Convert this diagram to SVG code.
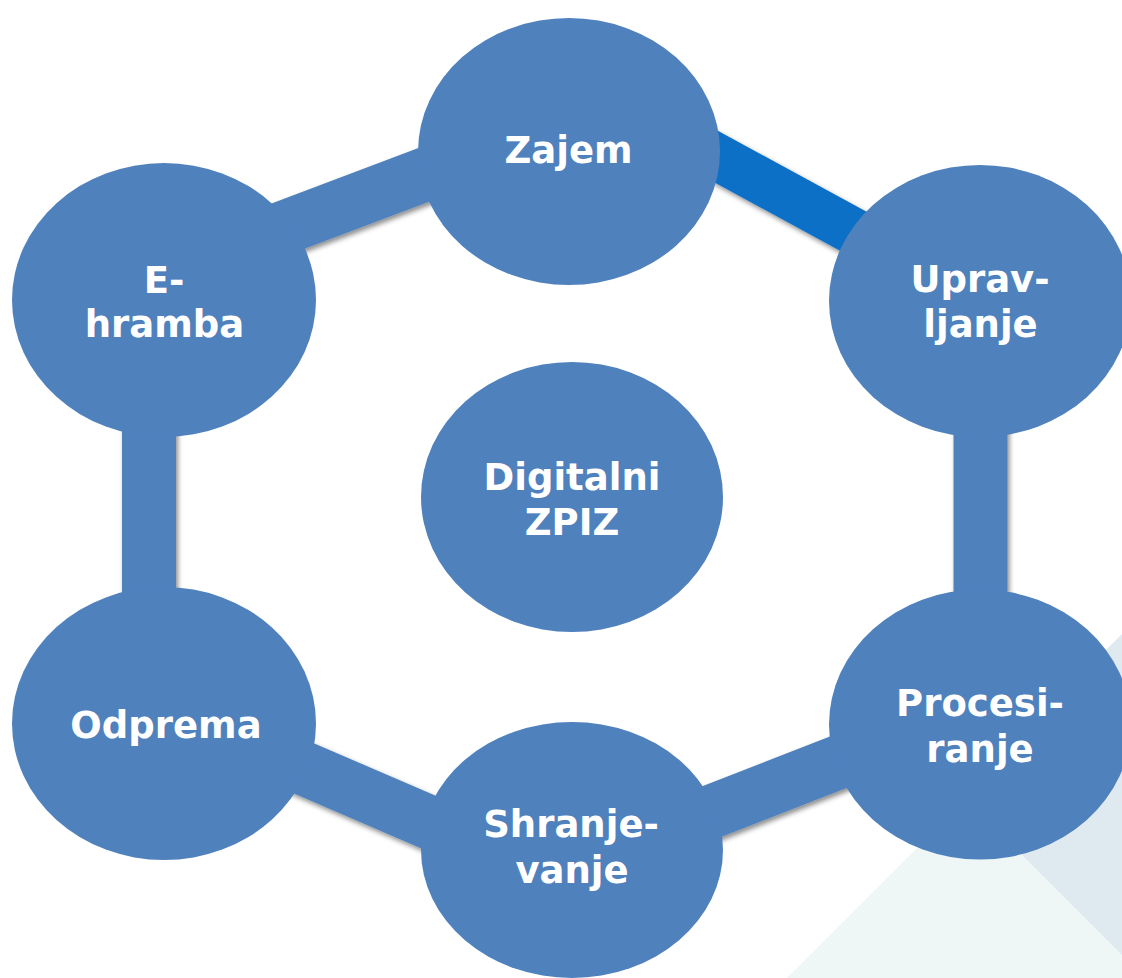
<svg xmlns="http://www.w3.org/2000/svg" width="1122" height="978" viewBox="0 0 1122 978">
  <defs>
    <filter id="shadow" x="-20%" y="-20%" width="140%" height="140%">
      <feDropShadow dx="2" dy="3" stdDeviation="2.5" flood-color="#000" flood-opacity="0.45"/>
    </filter>
  </defs>
  <style>
    .node { fill: #4f81bd; }
    .conn { stroke: #4f81bd; stroke-width: 54; fill: none; }
    .conn-hi { stroke: #1170c7; stroke-width: 47; fill: none; }
    .label { font-family: "DejaVu Sans", Verdana, sans-serif; font-weight: bold; font-size: 37px; fill: #ffffff; text-anchor: middle; }
  </style>
  <rect x="0" y="0" width="1122" height="978" fill="#ffffff"/>
  <g id="background">
    <polygon points="787,978 1122,643 1122,978" fill="#eef6f6"/>
    <polygon points="1122,634 961.5,794.5 1122,955" fill="#dfeaf0"/>
  </g>
  <g id="connectors" filter="url(#shadow)">
    <line class="conn" x1="164" y1="273" x2="569" y2="120"/>
    <line class="conn-hi" x1="569" y1="76.3" x2="980" y2="300.3"/>
    <line class="conn" x1="980.5" y1="300" x2="980.5" y2="723"/>
    <line class="conn" x1="572" y1="866" x2="980" y2="707"/>
    <line class="conn" x1="164" y1="708" x2="572" y2="884"/>
    <line class="conn" x1="149" y1="300" x2="149" y2="723"/>
  </g>
  <g id="node-zajem">
    <ellipse class="node" cx="569" cy="151.5" rx="151" ry="133.5"/>
    <text class="label" x="568.5" y="163.3">Zajem</text>
  </g>
  <g id="node-ehramba">
    <ellipse class="node" cx="164" cy="300" rx="152" ry="137"/>
    <text class="label" x="164" y="292.7">E-</text>
    <text class="label" x="164.5" y="337">hramba</text>
  </g>
  <g id="node-upravljanje">
    <ellipse class="node" cx="980" cy="301" rx="151" ry="136"/>
    <text class="label" x="980" y="291.7">Uprav-</text>
    <text class="label" x="980.5" y="337">ljanje</text>
  </g>
  <g id="node-digitalni">
    <ellipse class="node" cx="572" cy="497" rx="151" ry="135"/>
    <text class="label" x="572" y="490">Digitalni</text>
    <text class="label" x="572" y="535">ZPIZ</text>
  </g>
  <g id="node-odprema">
    <ellipse class="node" cx="164" cy="723.5" rx="152" ry="136.5"/>
    <text class="label" x="166" y="737.7">Odprema</text>
  </g>
  <g id="node-procesiranje">
    <ellipse class="node" cx="980" cy="724.5" rx="151" ry="135"/>
    <text class="label" x="980" y="716">Procesi-</text>
    <text class="label" x="980" y="761.7">ranje</text>
  </g>
  <g id="node-shranjevanje">
    <ellipse class="node" cx="572" cy="850" rx="151" ry="128"/>
    <text class="label" x="571" y="836.7">Shranje-</text>
    <text class="label" x="572" y="883">vanje</text>
  </g>
</svg>
